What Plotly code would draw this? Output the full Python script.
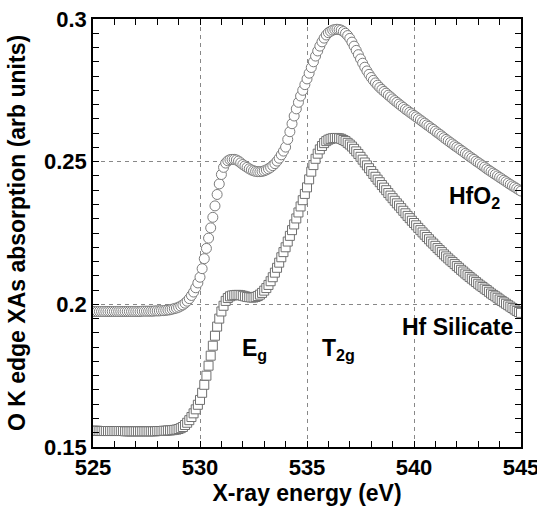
import plotly.graph_objects as go

# Photon energy grid of the scans (eV)
energy = [
    525.0, 525.1, 525.2, 525.3, 525.4, 525.5, 525.6, 525.7, 525.8, 525.9,
    526.0, 526.1, 526.2, 526.3, 526.4, 526.5, 526.6, 526.7, 526.8, 526.9,
    527.0, 527.1, 527.2, 527.3, 527.4, 527.5, 527.6, 527.7, 527.8, 527.9,
    528.0, 528.1, 528.2, 528.3, 528.4, 528.5, 528.6, 528.7, 528.8, 528.9,
    529.0, 529.1, 529.2, 529.3, 529.4, 529.5, 529.6, 529.7, 529.8, 529.9,
    530.0, 530.1, 530.2, 530.3, 530.4, 530.5, 530.6, 530.7, 530.8, 530.9,
    531.0, 531.1, 531.2, 531.3, 531.4, 531.5, 531.6, 531.7, 531.8, 531.9,
    532.0, 532.1, 532.2, 532.3, 532.4, 532.5, 532.6, 532.7, 532.8, 532.9,
    533.0, 533.1, 533.2, 533.3, 533.4, 533.5, 533.6, 533.7, 533.8, 533.9,
    534.0, 534.1, 534.2, 534.3, 534.4, 534.5, 534.6, 534.7, 534.8, 534.9,
    535.0, 535.1, 535.2, 535.3, 535.4, 535.5, 535.6, 535.7, 535.8, 535.9,
    536.0, 536.1, 536.2, 536.3, 536.4, 536.5, 536.6, 536.7, 536.8, 536.9,
    537.0, 537.1, 537.2, 537.3, 537.4, 537.5, 537.6, 537.7, 537.8, 537.9,
    538.0, 538.1, 538.2, 538.3, 538.4, 538.5, 538.6, 538.7, 538.8, 538.9,
    539.0, 539.1, 539.2, 539.3, 539.4, 539.5, 539.6, 539.7, 539.8, 539.9,
    540.0, 540.1, 540.2, 540.3, 540.4, 540.5, 540.6, 540.7, 540.8, 540.9,
    541.0, 541.1, 541.2, 541.3, 541.4, 541.5, 541.6, 541.7, 541.8, 541.9,
    542.0, 542.1, 542.2, 542.3, 542.4, 542.5, 542.6, 542.7, 542.8, 542.9,
    543.0, 543.1, 543.2, 543.3, 543.4, 543.5, 543.6, 543.7, 543.8, 543.9,
    544.0, 544.1, 544.2, 544.3, 544.4, 544.5, 544.6, 544.7, 544.8, 544.9,
    545.0,
]

# HfO2 O K-edge absorption (arb units)
hfo2_abs = [
    0.1975, 0.1975, 0.1975, 0.1975, 0.1975, 0.1975, 0.1975, 0.1975, 0.1975, 0.1975,
    0.1975, 0.1975, 0.1975, 0.1975, 0.1975, 0.1975, 0.1975, 0.1975, 0.1975, 0.1975,
    0.1975, 0.1975, 0.1975, 0.1976, 0.1976, 0.1976, 0.1976, 0.1976, 0.1976, 0.1977,
    0.1977, 0.1977, 0.1978, 0.1978, 0.1979, 0.1980, 0.1981, 0.1983, 0.1985, 0.1987,
    0.1990, 0.1994, 0.1998, 0.2004, 0.2011, 0.2020, 0.2031, 0.2043, 0.2058, 0.2075,
    0.2095, 0.2125, 0.2160, 0.2196, 0.2232, 0.2268, 0.2305, 0.2345, 0.2385, 0.2422,
    0.2455, 0.2480, 0.2495, 0.2503, 0.2507, 0.2508, 0.2508, 0.2506, 0.2502, 0.2496,
    0.2490, 0.2485, 0.2480, 0.2475, 0.2471, 0.2468, 0.2466, 0.2465, 0.2465, 0.2466,
    0.2468, 0.2471, 0.2475, 0.2480, 0.2486, 0.2493, 0.2502, 0.2512, 0.2524, 0.2537,
    0.2551, 0.2578, 0.2605, 0.2633, 0.2660, 0.2685, 0.2708, 0.2730, 0.2750, 0.2770,
    0.2790, 0.2810, 0.2830, 0.2850, 0.2870, 0.2888, 0.2905, 0.2920, 0.2933, 0.2944,
    0.2952, 0.2957, 0.2961, 0.2963, 0.2964, 0.2963, 0.2961, 0.2956, 0.2950, 0.2942,
    0.2932, 0.2919, 0.2905, 0.2890, 0.2875, 0.2860, 0.2845, 0.2831, 0.2818, 0.2806,
    0.2795, 0.2785, 0.2776, 0.2768, 0.2760, 0.2753, 0.2746, 0.2740, 0.2733, 0.2727,
    0.2720, 0.2714, 0.2708, 0.2702, 0.2696, 0.2690, 0.2684, 0.2679, 0.2673, 0.2668,
    0.2662, 0.2657, 0.2651, 0.2646, 0.2640, 0.2635, 0.2629, 0.2624, 0.2618, 0.2613,
    0.2607, 0.2601, 0.2596, 0.2590, 0.2584, 0.2578, 0.2573, 0.2567, 0.2562, 0.2556,
    0.2551, 0.2546, 0.2540, 0.2535, 0.2529, 0.2524, 0.2518, 0.2513, 0.2508, 0.2502,
    0.2497, 0.2492, 0.2486, 0.2481, 0.2475, 0.2470, 0.2465, 0.2460, 0.2455, 0.2450,
    0.2445, 0.2440, 0.2435, 0.2430, 0.2425, 0.2420, 0.2415, 0.2411, 0.2406, 0.2401,
    0.2397,
]

# Hf silicate O K-edge absorption (arb units)
silicate_abs = [
    0.1557, 0.1557, 0.1557, 0.1556, 0.1556, 0.1556, 0.1556, 0.1556, 0.1556, 0.1556,
    0.1556, 0.1556, 0.1556, 0.1556, 0.1556, 0.1555, 0.1555, 0.1555, 0.1555, 0.1555,
    0.1555, 0.1555, 0.1555, 0.1555, 0.1555, 0.1555, 0.1555, 0.1555, 0.1555, 0.1555,
    0.1556, 0.1556, 0.1556, 0.1557, 0.1557, 0.1558, 0.1558, 0.1559, 0.1560, 0.1561,
    0.1563, 0.1566, 0.1570, 0.1577, 0.1585, 0.1594, 0.1605, 0.1618, 0.1632, 0.1648,
    0.1665, 0.1690, 0.1718, 0.1750, 0.1785, 0.1820, 0.1855, 0.1890, 0.1922, 0.1950,
    0.1975, 0.1995, 0.2012, 0.2022, 0.2028, 0.2031, 0.2032, 0.2033, 0.2033, 0.2032,
    0.2030, 0.2028, 0.2026, 0.2025, 0.2024, 0.2024, 0.2026, 0.2029, 0.2034, 0.2040,
    0.2048, 0.2057, 0.2068, 0.2081, 0.2095, 0.2111, 0.2128, 0.2146, 0.2165, 0.2183,
    0.2200, 0.2220, 0.2240, 0.2260, 0.2280, 0.2301, 0.2322, 0.2343, 0.2365, 0.2387,
    0.2410, 0.2438, 0.2465, 0.2488, 0.2510, 0.2528, 0.2543, 0.2555, 0.2565, 0.2572,
    0.2577, 0.2580, 0.2582, 0.2583, 0.2583, 0.2582, 0.2580, 0.2576, 0.2572, 0.2566,
    0.2560, 0.2553, 0.2545, 0.2536, 0.2527, 0.2517, 0.2507, 0.2497, 0.2487, 0.2477,
    0.2467, 0.2457, 0.2447, 0.2437, 0.2428, 0.2418, 0.2409, 0.2400, 0.2390, 0.2381,
    0.2372, 0.2363, 0.2354, 0.2346, 0.2337, 0.2328, 0.2319, 0.2310, 0.2302, 0.2293,
    0.2285, 0.2277, 0.2268, 0.2260, 0.2252, 0.2244, 0.2236, 0.2228, 0.2220, 0.2213,
    0.2205, 0.2197, 0.2190, 0.2183, 0.2175, 0.2168, 0.2161, 0.2154, 0.2148, 0.2141,
    0.2134, 0.2128, 0.2121, 0.2115, 0.2108, 0.2102, 0.2096, 0.2090, 0.2084, 0.2078,
    0.2072, 0.2066, 0.2061, 0.2055, 0.2050, 0.2044, 0.2038, 0.2033, 0.2028, 0.2023,
    0.2017, 0.2012, 0.2007, 0.2002, 0.1997, 0.1992, 0.1987, 0.1982, 0.1977, 0.1973,
    0.1970,
]

x_ticks = [525, 530, 535, 540, 545]
y_ticks = [0.15, 0.2, 0.25, 0.3]
y_tick_text = ["0.15", "0.2", "0.25", "0.3"]

FONT = "Liberation Sans, Arial, sans-serif"

fig = go.Figure()
fig.add_trace(go.Scatter(
    x=energy, y=silicate_abs, mode="markers", name="Hf Silicate",
    marker=dict(symbol="square", size=9, color="white",
                line=dict(color="#707070", width=1)),
))
fig.add_trace(go.Scatter(
    x=energy, y=hfo2_abs, mode="markers", name="HfO2",
    marker=dict(symbol="circle", size=10, color="white",
                line=dict(color="#7c7c7c", width=1)),
))

ann_font = dict(family=FONT, size=23, color="black", weight="bold")
fig.add_annotation(x=542.84, y=0.2373, text="HfO<sub>2</sub>", showarrow=False, font=ann_font)
fig.add_annotation(x=542.05, y=0.1922, text="Hf Silicate", showarrow=False, font=ann_font)
fig.add_annotation(x=532.55, y=0.1840, text="E<sub>g</sub>", showarrow=False, font=ann_font)
fig.add_annotation(x=536.45, y=0.1840, text="T<sub>2g</sub>", showarrow=False, font=ann_font)

axis_common = dict(
    showline=True, linecolor="black", linewidth=1.5, mirror="allticks",
    ticks="inside", ticklen=6, tickwidth=1, tickcolor="black",
    showgrid=True, gridcolor="#888888", gridwidth=1, griddash="4px,4px",
    zeroline=False, automargin=False, ticklabeloverflow="allow",
    tickfont=dict(family=FONT, size=22, color="black", weight="bold"),
)

fig.update_xaxes(
    range=[525, 545], tickvals=x_ticks, ticktext=[str(v) for v in x_ticks],
    minor=dict(dtick=1, ticks="inside", ticklen=6, tickcolor="black", showgrid=False),
    title=dict(text="X-ray energy (eV)", font=dict(family=FONT, size=23, color="black", weight="bold"), standoff=6),
    **axis_common,
)
fig.update_yaxes(
    range=[0.15, 0.3], tickvals=y_ticks, ticktext=y_tick_text,
    minor=dict(dtick=0.005, ticks="inside", ticklen=6, tickcolor="black", showgrid=False),
    title=dict(text="O K edge XAs absorption (arb units)", font=dict(family=FONT, size=23, color="black", weight="bold"), standoff=12),
    **axis_common,
)

fig.update_layout(
    width=537, height=507,
    margin=dict(l=93, r=16, t=19, b=60),
    plot_bgcolor="white", paper_bgcolor="white",
    showlegend=False,
)

fig.write_html(
    "out.html",
    config={"displayModeBar": False},
    post_script="document.body.style.margin='0';document.body.style.padding='0';document.body.style.overflow='hidden';",
)
